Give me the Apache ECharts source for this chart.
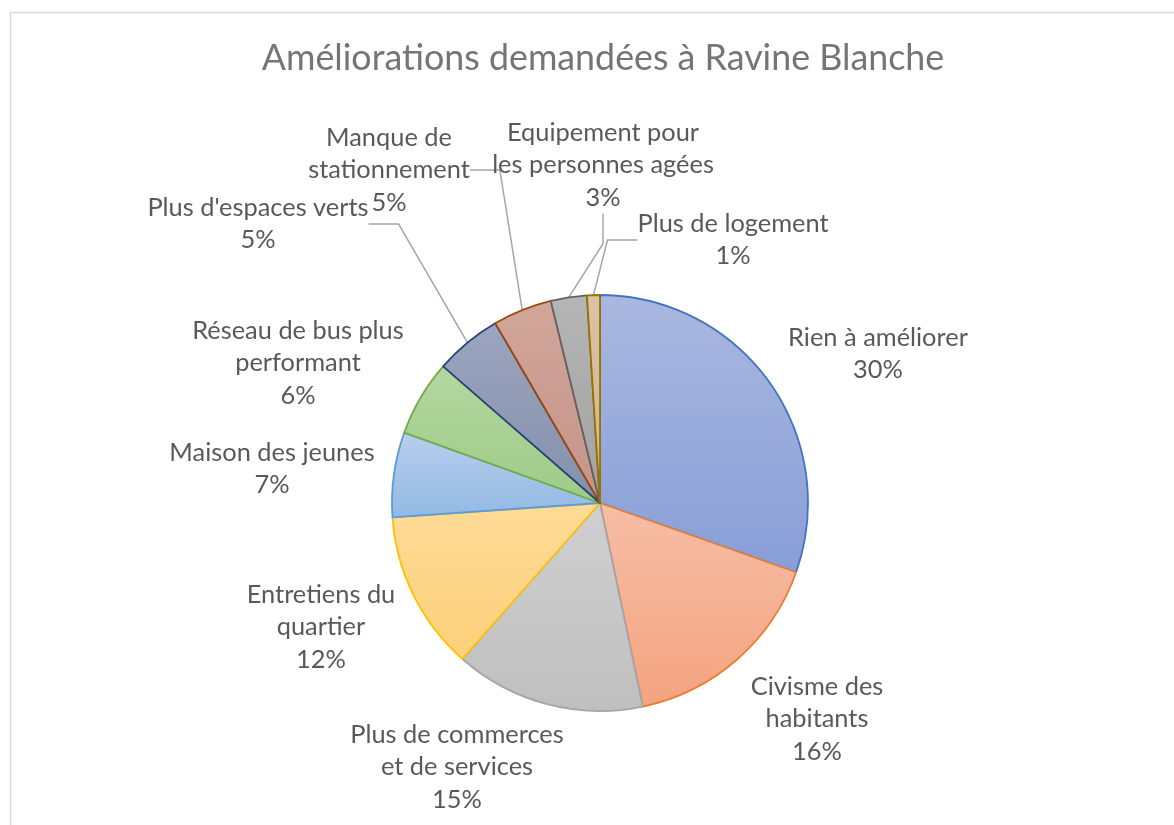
<!DOCTYPE html>
<html>
<head>
<meta charset="utf-8">
<script src="https://cdn.jsdelivr.net/npm/echarts@6/dist/echarts.min.js"></script>
<style>
html,body{margin:0;padding:0;background:#fff;}
#chart{width:1174px;height:825px;}
</style>
</head>
<body>
<div id="chart"></div>
<script>
const titleText = 'Améliorations demandées à Ravine Blanche';
const categories = [
  'Rien à améliorer',
  'Civisme des\nhabitants',
  'Plus de commerces\net de services',
  'Entretiens du\nquartier',
  'Maison des jeunes',
  'Réseau de bus plus\nperformant',
  "Plus d'espaces verts",
  'Manque de\nstationnement',
  'Equipement pour\nles personnes agées',
  'Plus de logement'
];
const values = [30.4, 16.3, 14.8, 12.4, 6.6, 5.9, 5.2, 4.6, 2.8, 1.0];
const showLeader = [false, false, false, false, false, false, true, true, true, true];

const fillTop = ['#AAB8E0','#F6BEA6','#D0D0D0','#FFDB97','#B7CFEC','#B4D7A1','#9CA5BF','#D2A69A','#B5B5B5','#DAC2A4'];
const fillBot = ['#889ED7','#F4A380','#BFBFBF','#FDD07A','#92B9E4','#9ECB86','#8390AC','#C5948A','#A2A2A2','#D2B692'];
const borders = ['#4472C4','#ED7D31','#A5A5A5','#FFC000','#5B9BD5','#70AD47','#264478','#9E480E','#636363','#997300'];
// label centres (px)
const labelPos = [
  [878, 354], [817, 719], [457, 767], [321, 627], [272, 469],
  [298, 363], [258, 224], [389, 170], [603, 165], [733, 240]
];

const chart = echarts.init(document.getElementById('chart'));
const data = categories.map((c, i) => ({
  name: c,
  value: values[i],
  itemStyle: {
    color: new echarts.graphic.LinearGradient(0, 0, 0, 1, [
      {offset: 0, color: fillTop[i]}, {offset: 1, color: fillBot[i]}
    ]),
    borderColor: borders[i],
    borderWidth: 1.8
  },
  labelLine: {show: showLeader[i]}
}));

chart.setOption({
  animation: false,
  backgroundColor: '#fff',
  graphic: [{
    type: 'rect',
    shape: {x: 10.5, y: 12.5, width: 1200, height: 900},
    style: {fill: 'none', stroke: '#D9D9D9', lineWidth: 1.5},
    z: -10
  }],
  title: {
    text: titleText,
    left: 598,
    textAlign: 'center',
    top: 35,
    textStyle: {fontFamily: 'Lato', fontWeight: 'normal', fontSize: 35.8, color: '#757575'}
  },
  series: [{
    type: 'pie',
    center: [600, 503],
    radius: 208,
    startAngle: 90,
    clockwise: true,
    percentPrecision: 0,
    data: data,
    label: {
      show: true,
      position: 'outside',
      formatter: '{b}\n{d}%',
      fontFamily: 'Lato',
      fontSize: 25.4,
      lineHeight: 32.5,
      color: '#595959',
      align: 'center'
    },
    labelLine: {
      show: true,
      lineStyle: {color: '#A6A6A6', width: 1.5}
    },
    labelLayout: function (params) {
      const p = labelPos[params.dataIndex];
      return {x: p[0], y: p[1], align: 'center', verticalAlign: 'middle', hideOverlap: false};
    },
    emphasis: {disabled: true}
  }]
});
</script>
</body>
</html>
